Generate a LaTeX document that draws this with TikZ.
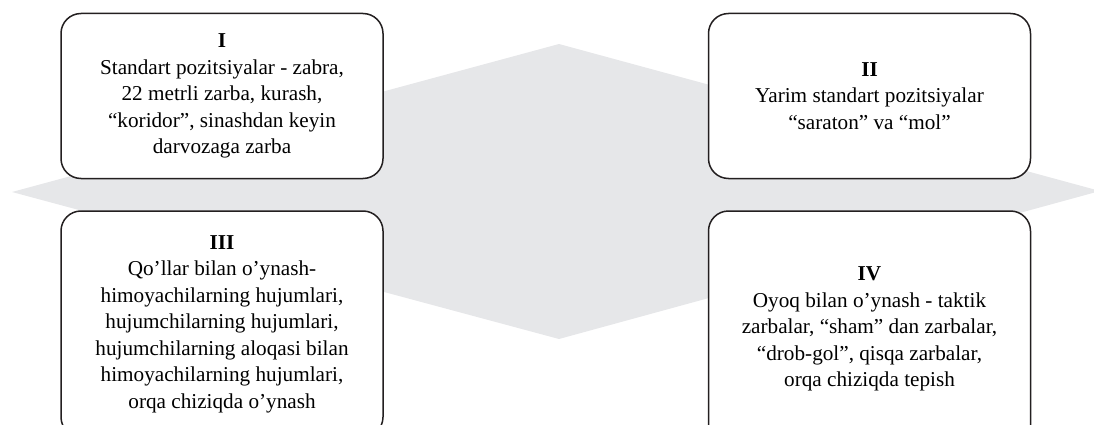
\documentclass[tikz,border=0pt]{standalone}
\usepackage{fontspec}
\setmainfont{Liberation Serif}
\usetikzlibrary{positioning}
\definecolor{diamondgray}{RGB}{230,231,233}
\definecolor{panelline}{RGB}{35,31,32}

\begin{document}
\begin{tikzpicture}[
  x=1pt, y=-1pt,
  node distance=31pt and 324pt,
  every node/.style={font=\fontsize{21.2}{26.5}\selectfont},
  panel/.style={draw=panelline, line width=1.5pt, rounded corners=20pt, fill=white,
    minimum width=322pt, align=center, inner sep=0pt},
  bgshape/.style={fill=diamondgray}
]
\useasboundingbox (0,0) rectangle (1094,425);

% background diamond
\fill[bgshape] (12,192) -- (559,44) -- (1100,191) -- (559,339) -- cycle;

\node[panel, minimum height=165pt] (std) at (222,96) {\textbf{I}\\Standart pozitsiyalar - zabra,\\22 metrli zarba, kurash,\\``koridor'', sinashdan keyin\\darvozaga zarba};

\node[panel, minimum height=165pt, right=of std] (semistd) {\textbf{II}\\Yarim standart pozitsiyalar\\``saraton'' va ``mol''};

\node[panel, minimum height=226pt, below=31pt of std.south, anchor=north] (hands) {\textbf{III}\\Qo'llar bilan o'ynash-\\himoyachilarning hujumlari,\\hujumchilarning hujumlari,\\hujumchilarning aloqasi bilan\\himoyachilarning hujumlari,\\orqa chiziqda o'ynash};

\node[panel, minimum height=236pt, right=of hands.north east, anchor=north west] (feet) {\textbf{IV}\\Oyoq bilan o'ynash - taktik\\zarbalar, ``sham'' dan zarbalar,\\``drob-gol'', qisqa zarbalar,\\orqa chiziqda tepish};

\end{tikzpicture}
\end{document}
